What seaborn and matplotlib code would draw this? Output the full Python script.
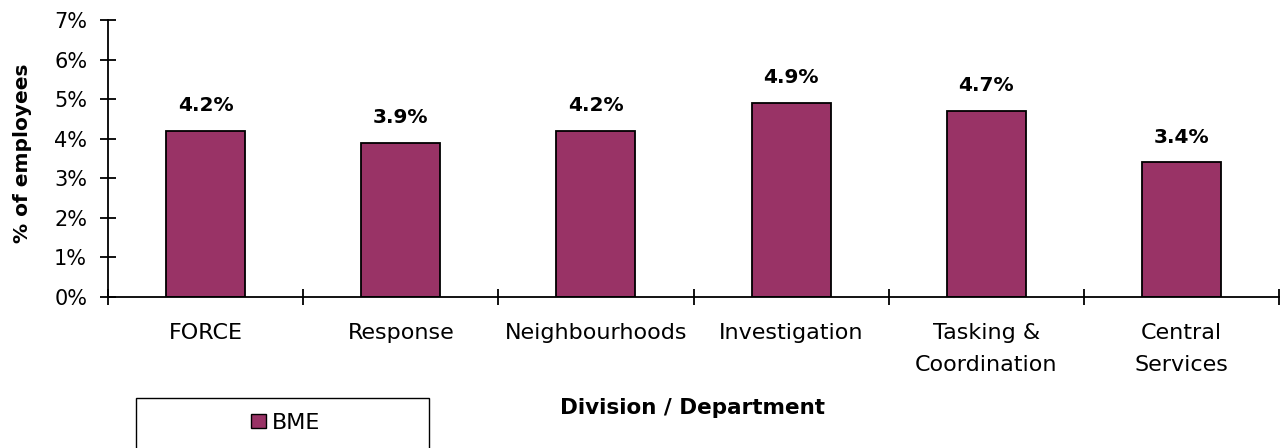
import matplotlib
matplotlib.use("Agg")
import matplotlib.pyplot as plt
import seaborn as sns
import pandas as pd
from matplotlib.patches import Rectangle
from matplotlib.ticker import FuncFormatter, FixedLocator

# Share of BME employees by division / department
categories = ["FORCE", "Response", "Neighbourhoods", "Investigation",
              "Tasking &\nCoordination", "Central\nServices"]
bme_pct = [4.2, 3.9, 4.2, 4.9, 4.7, 3.4]
series_name = "BME"
y_ticks = [0, 1, 2, 3, 4, 5, 6, 7]

df = pd.DataFrame({"division": categories, "pct": bme_pct,
                   "series": [series_name] * len(categories)})

sns.set_theme(style="white")
plt.rcParams["font.family"] = ["DejaVu Sans"]
plt.rcParams["text.color"] = "black"

W, H = 1287, 448
fig = plt.figure(figsize=(W / 100, H / 100), dpi=100)
ax = fig.add_axes([108 / W, 1 - 297 / H, (1279 - 108) / W, (297 - 20) / H])

sns.barplot(data=df, x="division", y="pct", hue="series", ax=ax,
            palette=["#993366"], width=0.405, edgecolor="black",
            linewidth=1.3, saturation=1, dodge=False)
handles, labels = ax.get_legend_handles_labels()
if ax.get_legend() is not None:
    ax.get_legend().remove()

ax.set_xlim(-0.5, len(categories) - 0.5)
ax.set_ylim(0, 7)
ax.yaxis.set_major_locator(FixedLocator(y_ticks))
ax.yaxis.set_major_formatter(FuncFormatter(lambda v, _: f"{v:.0f}%"))

# value labels above bars
for i, v in enumerate(bme_pct):
    ax.text(i, v + 0.5, f"{v:.1f}%", ha="center", va="baseline",
            fontsize=14.5, fontweight="bold", color="black")

for s in ["top", "right"]:
    ax.spines[s].set_visible(False)
for s in ["left", "bottom"]:
    ax.spines[s].set_color("black")
    ax.spines[s].set_linewidth(1.3)

# category boundary ticks on the x axis
ax.set_xticks([i - 0.5 for i in range(len(categories) + 1)], minor=True)
ax.tick_params(axis="x", which="minor", direction="inout", length=11,
               width=1.3, color="black", bottom=True)
ax.tick_params(axis="x", which="major", length=0, labelsize=16,
               colors="black", pad=19)
ax.tick_params(axis="y", which="major", direction="inout", length=12,
               width=1.3, color="black", left=True, labelsize=15,
               colors="black", pad=9)
for lbl in ax.get_xticklabels():
    lbl.set_multialignment("center")
    lbl.set_linespacing(1.7)

ax.set_xlabel("")
ax.set_ylabel("")
fig.text(22 / W, 1 - 153 / H, "% of employees", rotation=90,
         ha="center", va="center", fontsize=14.5, fontweight="bold",
         color="black")
fig.text(693 / W, 1 - 408 / H, "Division / Department", ha="center",
         va="center", fontsize=15.5, fontweight="bold", color="black")

# legend: plain box with the series entry centred inside
box = Rectangle((136 / W, -0.02), (429 - 136) / W, (448 - 398) / H + 0.02,
                transform=fig.transFigure, facecolor="white",
                edgecolor="black", linewidth=1.0, zorder=1)
fig.patches.append(box)
leg = fig.legend(handles, labels, loc="center",
                 bbox_to_anchor=(286 / W, 1 - 423 / H),
                 bbox_transform=fig.transFigure, frameon=False,
                 fontsize=16, handlelength=0.65, handleheight=0.6,
                 handletextpad=0.3, borderpad=0, borderaxespad=0,
                 labelcolor="black")
for h in leg.legend_handles:
    h.set_edgecolor("black")
    h.set_linewidth(1.0)
leg.set_zorder(3)

fig.savefig("out.png", dpi=100)
